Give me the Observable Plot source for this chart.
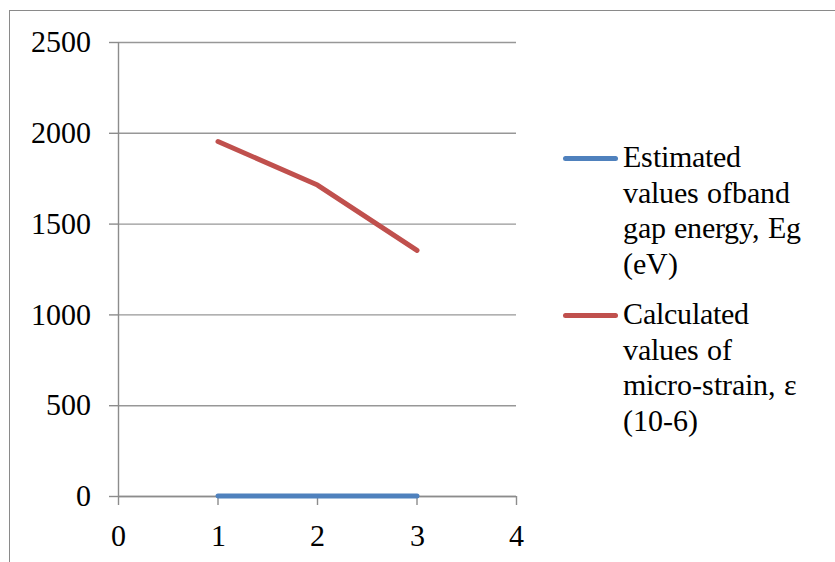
<!DOCTYPE html>
<html>
<head>
<meta charset="utf-8">
<script src="https://cdn.jsdelivr.net/npm/d3@7"></script>
<script src="https://cdn.jsdelivr.net/npm/@observablehq/plot@0.6"></script>
<style>
  @font-face { font-family: "ChartSerif"; src: local("Liberation Serif"), local("LiberationSerif"), local("Tinos"), local("DejaVu Serif"); }
  html, body { margin: 0; padding: 0; background: #fff; }
  #chart { position: relative; width: 835px; height: 562px; overflow: hidden; font-family: "ChartSerif", "Liberation Serif", Tinos, serif; }
  #chart svg, #chart svg text { font-family: "ChartSerif", "Liberation Serif", Tinos, serif; }
  #frame { position: absolute; left: 9px; top: 10px; width: 840px; height: 560px;
           border-top: 1.5px solid #8a8a8a; border-left: 1.5px solid #8a8a8a; }
  #legend { position: absolute; left: 563px; top: 139px; font-size: 30px; line-height: 35.7px; color: #000;
            font-family: "ChartSerif", "Liberation Serif", Tinos, serif; }
  .entry { position: relative; padding-left: 60px; margin-bottom: 14px; }
  .swatch { position: absolute; left: 0; top: 17px; width: 55px; height: 5px; border-radius: 3px; }
</style>
</head>
<body>
<div id="chart"><div id="frame"></div><div id="legend"></div></div>
<script>
// Sample index on the x axis
const samples = [1, 2, 3];
// Estimated band gap energy, Eg (eV)
const bandGap = [3.25, 3.2, 3.15];
// Calculated micro-strain, ε (10-6)
const microStrain = [1955, 1715, 1355];

const xTicks = [0, 1, 2, 3, 4];
const yTicks = [0, 500, 1000, 1500, 2000, 2500];

const seriesNames = ["Estimated values ofband gap energy, Eg (eV)", "Calculated values of micro-strain, ε (10-6)"];
const legendLines = [
  ["Estimated", "values ofband", "gap energy, Eg", "(eV)"],
  ["Calculated", "values of", "micro-strain, ε", "(10-6)"]
];
const seriesColors = ["#4F81BD", "#C0504D"];

const rows = [
  ...samples.map((s, i) => ({sample: s, value: bandGap[i], series: seriesNames[0]})),
  ...samples.map((s, i) => ({sample: s, value: microStrain[i], series: seriesNames[1]}))
];

const axisGray = "#8c8c8c";
const serifStack = "ChartSerif, 'Liberation Serif', Tinos, serif";

const plot = Plot.plot({
  width: 835,
  height: 562,
  marginLeft: 118,
  marginRight: 319,
  marginTop: 42,
  marginBottom: 66,
  style: {fontFamily: serifStack, fontSize: "30px"},
  x: {domain: [0, 4]},
  y: {domain: [0, 2500]},
  color: {domain: seriesNames, range: seriesColors},
  marks: [
    Plot.gridY(yTicks, {stroke: "#979797", strokeOpacity: 1, strokeWidth: 1.4}),
    Plot.ruleX([0], {stroke: axisGray, strokeWidth: 1.4}),
    Plot.ruleY([0], {stroke: axisGray, strokeWidth: 1.4}),
    Plot.axisY(yTicks, {tickSize: 9, tickPadding: 19, stroke: axisGray, strokeWidth: 1.4, label: null, fill: "#000", fontFamily: serifStack, tickFormat: d => String(d)}),
    Plot.axisX(xTicks, {tickSize: 9, tickPadding: 19, stroke: axisGray, strokeWidth: 1.4, label: null, fill: "#000", fontFamily: serifStack, tickFormat: d => String(d)}),
    Plot.line(rows, {x: "sample", y: "value", z: "series", stroke: "series", strokeWidth: 5, strokeLinecap: "round", strokeLinejoin: "round"})
  ]
});

document.getElementById("chart").insertBefore(plot, document.getElementById("frame"));

const legend = document.getElementById("legend");
seriesNames.forEach((name, i) => {
  const entry = document.createElement("div");
  entry.className = "entry";
  const sw = document.createElement("div");
  sw.className = "swatch";
  sw.style.background = seriesColors[i];
  entry.appendChild(sw);
  legendLines[i].forEach(line => {
    const row = document.createElement("div");
    row.textContent = line;
    entry.appendChild(row);
  });
  legend.appendChild(entry);
});
</script>
</body>
</html>
